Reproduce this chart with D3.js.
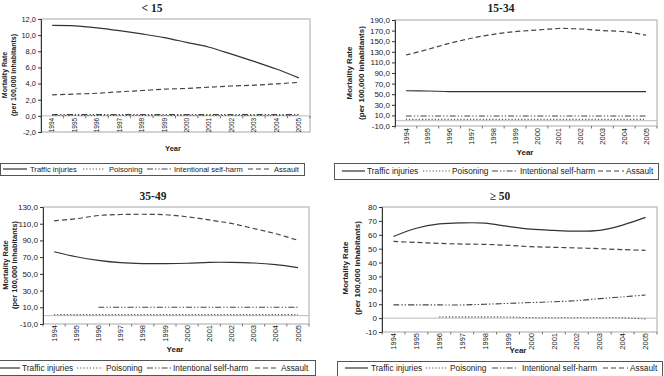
<!DOCTYPE html>
<html>
<head>
<meta charset="utf-8">
<script src="https://cdn.jsdelivr.net/npm/d3@7"></script>
<style>
  html, body { margin: 0; padding: 0; background: #fff; }
  svg { display: block; }
  text { font-family: "Liberation Sans", Arial, sans-serif; fill: #222; }
</style>
</head>
<body>
<svg id="chart" width="664" height="376"></svg>
<script>
// ---------- DATA ----------
const years = ["1994","1995","1996","1997","1998","1999","2000","2001","2002","2003","2004","2005"];
const seriesNames = ["Traffic injuries", "Poisoning", "Intentional self-harm", "Assault"];
const panelTitles = ["< 15", "15-34", "35-49", "\u2265 50"];

// < 15
const u15Traffic  = [11.2, 11.15, 10.9, 10.55, 10.15, 9.7, 9.1, 8.5, 7.65, 6.75, 5.8, 4.7];
const u15Poison   = [0.05, 0.05, 0.05, 0.05, 0.05, 0.05, 0.05, 0.05, 0.05, 0.05, 0.05, 0.05];
const u15SelfHarm = [0.15, 0.15, 0.15, 0.15, 0.15, 0.15, 0.15, 0.15, 0.15, 0.15, 0.15, 0.15];
const u15Assault  = [2.6, 2.7, 2.8, 2.98, 3.14, 3.3, 3.4, 3.55, 3.7, 3.8, 3.97, 4.15];
// 15-34
const a1534Traffic  = [56.5, 56, 55, 55, 55, 55, 55, 55, 55, 55, 55, 55];
const a1534Poison   = [2.5, 2.5, 2.5, 2.5, 2.5, 2.5, 2.5, 2.5, 2.5, 2.5, 2.5, 2.5];
const a1534SelfHarm = [9, 9, 9, 9, 9, 9, 9, 9, 9, 9, 9, 9];
const a1534Assault  = [124, 134.5, 146, 155.5, 163, 168, 171, 174, 173, 170, 168, 161.5];
// 35-49
const a3549Traffic  = [76.5, 70.5, 66.2, 63.4, 62.3, 62.3, 62.7, 63.8, 63.8, 63, 61, 57.5];
const a3549Poison   = [1.2, 1.2, 1.2, 1.2, 1.2, 1.2, 1.2, 1.2, 1.2, 1.2, 1.2, 1.2];
const a3549SelfHarm = [null, null, 10, 10, 10, 10, 10, 10, 10, 10, 10, 10];
const a3549Assault  = [113.5, 116, 119.8, 121, 121.3, 120.8, 118.3, 114.5, 110.3, 104.3, 98, 90.2];
// >= 50
const o50Traffic  = [58.8, 64.7, 67.8, 68.6, 68.4, 66, 64, 63.1, 62.6, 63.2, 67, 72.5];
const o50Poison   = [null, null, 0.9, 0.9, 0.9, 0.8, 0.3, 0.3, 0.3, 0.3, 0.2, -0.6];
const o50SelfHarm = [9.5, 9.5, 9.5, 9.5, 10, 10.6, 11.2, 11.8, 12.6, 14, 15.3, 16.6];
const o50Assault  = [55.2, 54.5, 53.8, 53.3, 53.1, 52.4, 51.4, 51, 50.5, 50, 49.3, 48.8];

// y tick values
const u15Ticks  = [-2, 0, 2, 4, 6, 8, 10, 12];
const a1534Ticks = [-10, 10, 30, 50, 70, 90, 110, 130, 150, 170, 190];
const a3549Ticks = [-10, 10, 30, 50, 70, 90, 110, 130];
const o50Ticks  = [-10, 0, 10, 20, 30, 40, 50, 60, 70, 80];

const axisTitleY = ["Mortality Rate", "(per 100,000 inhabitants)"];
const axisTitleX = "Year";

// ---------- STYLES ----------
const lineStyles = [
  { dash: null, width: 1.2, color: "#333" },
  { dash: "1.2,2", width: 1.1, color: "#555" },
  { dash: "6,2,1.3,2,1.3,2", width: 1.1, color: "#444" },
  { dash: "5,3", width: 1.2, color: "#444" }
];

const panels = [
  { title: panelTitles[0], data: [u15Traffic, u15Poison, u15SelfHarm, u15Assault], ticks: u15Ticks, fmt: "dec",
    plot: { l: 41, t: 19, r: 310, b: 132 }, titleXY: [152, 8], yt: [5, 14, 75], labelAtZero: true, labelTop: 0,
    xt: [173, 148], leg: { x: 0, y: 163, w: 304, h: 12, ty: 169, items: [[3, 27, 30], [83, 105, 109], [147, 172, 174], [248, 272, 274]] },
    f: { tick: 7.5, year: 6.5, leg: 7.6, yt: 7, xt: 7.5, title: 11.5 } },
  { title: panelTitles[1], data: [a1534Traffic, a1534Poison, a1534SelfHarm, a1534Assault], ticks: a1534Ticks, fmt: "dec",
    plot: { l: 395, t: 20, r: 657, b: 126 }, titleXY: [501, 8], yt: [349, 361, 73], labelAtZero: false, labelTop: 128,
    xt: [525, 152], leg: { x: 334, y: 163, w: 324, h: 16, ty: 171, items: [[342, 365, 367], [423, 450, 452], [492, 518, 520], [598, 624, 626]] },
    f: { tick: 8, year: 7.5, leg: 8.3, yt: 8, xt: 8, title: 11.5 } },
  { title: panelTitles[2], data: [a3549Traffic, a3549Poison, a3549SelfHarm, a3549Assault], ticks: a3549Ticks, fmt: "dec",
    plot: { l: 43, t: 207, r: 309, b: 324 }, titleXY: [153, 196], yt: [5, 14, 265], labelAtZero: false, labelTop: 325,
    xt: [175, 349], leg: { x: -2, y: 360, w: 317, h: 15, ty: 368, items: [[-2, 20, 22], [77, 103, 106], [147, 172, 173], [255, 279, 281]] },
    f: { tick: 8, year: 7.5, leg: 8.3, yt: 7.5, xt: 8, title: 11.5 } },
  { title: panelTitles[3], data: [o50Traffic, o50Poison, o50SelfHarm, o50Assault], ticks: o50Ticks, fmt: "int",
    plot: { l: 382, t: 207, r: 657, b: 332 }, titleXY: [500, 196], yt: [345, 357, 268], labelAtZero: false, labelTop: 333,
    xt: [518, 350], leg: { x: 337, y: 361, w: 325, h: 15, ty: 368, items: [[345, 368, 371], [426, 448, 450], [492, 518, 522], [603, 628, 630]] },
    f: { tick: 8, year: 7.5, leg: 8.3, yt: 8, xt: 8, title: 11.5 } }
];

const svg = d3.select("#chart");
const fmtDec = v => d3.format(".1f")(v).replace(".", ",").replace("\u2212", "-");
const fmtInt = v => d3.format("d")(v).replace("\u2212", "-");

panels.forEach(p => {
  const g = svg.append("g");
  const P = p.plot;
  const x = d3.scaleBand().domain(years).range([P.l, P.r]);
  const y = d3.scaleLinear().domain([p.ticks[0], p.ticks[p.ticks.length - 1]]).range([P.b, P.t]);

  // title
  g.append("text").attr("x", p.titleXY[0]).attr("y", p.titleXY[1]).attr("dy", "0.35em")
    .attr("text-anchor", "middle")
    .style("font-family", "'Liberation Serif', 'Times New Roman', serif")
    .style("font-weight", "bold").style("font-size", p.f.title + "px").text(p.title);

  // plot border
  g.append("rect").attr("x", P.l).attr("y", P.t).attr("width", P.r - P.l).attr("height", P.b - P.t)
    .attr("fill", "none").attr("stroke", "#a8a8a8").attr("stroke-width", 1);

  // zero line
  g.append("line").attr("x1", P.l).attr("x2", P.r).attr("y1", y(0)).attr("y2", y(0))
    .attr("stroke", "#bbb").attr("stroke-width", 1);

  // y axis
  const ya = g.append("g").attr("transform", `translate(${P.l},0)`)
    .call(d3.axisLeft(y).tickValues(p.ticks).tickSize(3).tickPadding(2)
      .tickFormat(p.fmt === "dec" ? fmtDec : fmtInt));
  ya.select(".domain").attr("stroke", "#333");
  ya.selectAll(".tick line").attr("stroke", "#333");
  ya.selectAll("text").style("font-size", p.f.tick + "px").attr("fill", "#222")
    .style("font-family", "'Liberation Sans', Arial, sans-serif");

  // x ticks (category boundaries)
  const axisY = p.labelAtZero ? y(0) : P.b;
  const bounds = years.map(yr => x(yr)).concat([P.r]);
  g.selectAll(".xt").data(bounds).enter().append("line")
    .attr("x1", d => d).attr("x2", d => d).attr("y1", axisY).attr("y2", axisY + 2.5)
    .attr("stroke", "#555").attr("stroke-width", 0.8);

  // x labels
  const lt = p.labelAtZero ? y(0) + 2 : p.labelTop;
  g.selectAll(".yl").data(years).enter().append("text")
    .attr("transform", d => `translate(${x(d) + x.bandwidth() / 2},${lt}) rotate(-90)`)
    .attr("dy", "0.35em").attr("text-anchor", "end")
    .style("font-size", p.f.year + "px").text(d => d);

  // axis titles
  g.append("text").attr("x", p.xt[0]).attr("y", p.xt[1]).attr("dy", "0.35em").attr("text-anchor", "middle")
    .style("font-weight", "bold").style("font-size", p.f.xt + "px").text(axisTitleX);
  [0, 1].forEach(i => {
    g.append("text").attr("transform", `translate(${p.yt[i]},${p.yt[2]}) rotate(-90)`)
      .attr("dy", "0.35em").attr("text-anchor", "middle")
      .style("font-weight", "bold").style("font-size", p.f.yt + "px").text(axisTitleY[i]);
  });

  // lines
  const line = d3.line()
    .defined(d => d.v !== null)
    .x(d => x(d.year) + x.bandwidth() / 2)
    .y(d => y(d.v))
    .curve(d3.curveCatmullRom.alpha(0.5));
  p.data.forEach((arr, si) => {
    const st = lineStyles[si];
    g.append("path").datum(years.map((yr, i) => ({ year: yr, v: arr[i] })))
      .attr("d", line).attr("fill", "none")
      .attr("stroke", st.color).attr("stroke-width", st.width)
      .attr("stroke-dasharray", st.dash);
  });

  // legend
  const L = p.leg;
  g.append("rect").attr("x", L.x + 0.5).attr("y", L.y + 0.5).attr("width", L.w).attr("height", L.h)
    .attr("fill", "#fff").attr("stroke", "#555").attr("stroke-width", 1);
  seriesNames.forEach((name, si) => {
    const it = L.items[si];
    const st = lineStyles[si];
    g.append("line").attr("x1", it[0]).attr("x2", it[1]).attr("y1", L.ty).attr("y2", L.ty)
      .attr("stroke", st.color).attr("stroke-width", st.width).attr("stroke-dasharray", st.dash);
    g.append("text").attr("x", it[2]).attr("y", L.ty).attr("dy", "0.35em")
      .style("font-size", p.f.leg + "px").text(name);
  });
});
</script>
</body>
</html>
